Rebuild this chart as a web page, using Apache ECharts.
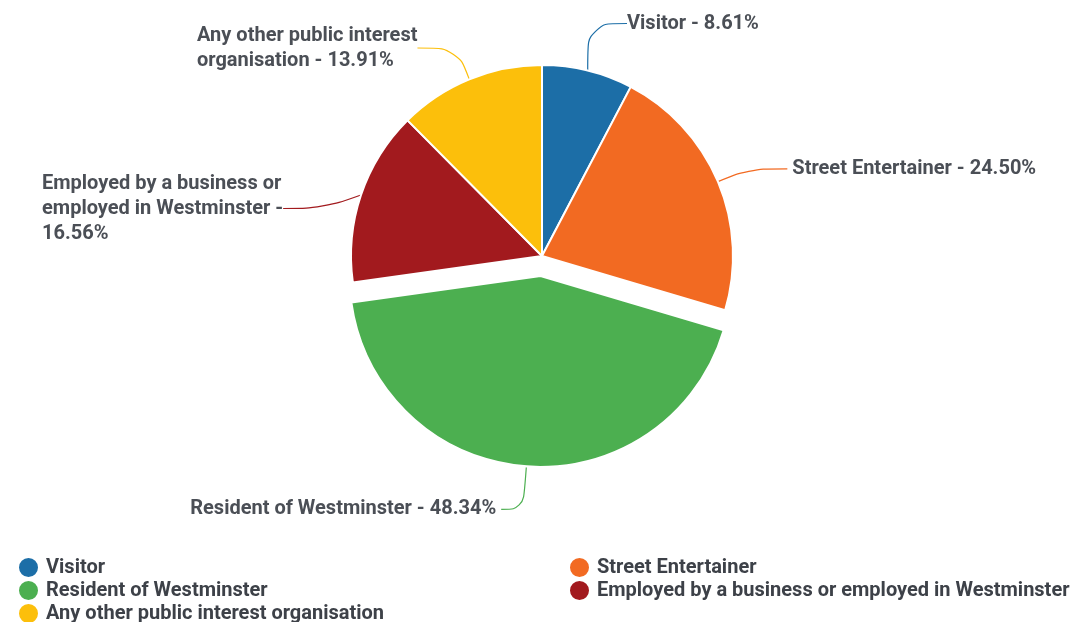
<!DOCTYPE html>
<html>
<head>
<meta charset="utf-8">
<script src="https://cdn.jsdelivr.net/npm/echarts@6/dist/echarts.min.js"></script>
<style>html,body{margin:0;padding:0;background:#fff}#c{width:1078px;height:622px}</style>
</head>
<body>
<div id="c"></div>
<script>
const categories = ['Visitor', 'Street Entertainer', 'Resident of Westminster', 'Employed by a business or employed in Westminster', 'Any other public interest organisation'];
const values = [8.61, 24.50, 48.34, 16.56, 13.91];
const labelTexts = ['Visitor', 'Street Entertainer', 'Resident of Westminster', 'Employed by a business or\nemployed in Westminster -\n', 'Any other public interest\norganisation'];
const colors = ['#1c6ea7', '#f26a22', '#4caf50', '#a21a1e', '#fcbf0b'];

const chart = echarts.init(document.getElementById('c'));
const labelPos = [
  [627, 11], null, null, [42, 171], [197, 23]
];
const txt = '#4b4f56';
const legendCommon = {
  orient: 'vertical', icon: 'circle', itemWidth: 21, itemHeight: 21, itemGap: 0, height: 80, padding: 0,
  textStyle: { fontFamily: 'Roboto', fontSize: 20, fontWeight: 'bold', color: '#3d4148', lineHeight: 21, padding: [0,0,0,2] },
  selectedMode: false
};
chart.setOption({
  animation: false,
  color: colors,
  legend: [
    Object.assign({ left: 17, top: 556, data: [categories[0], categories[2], categories[4]] }, legendCommon),
    Object.assign({ left: 568, top: 556, data: [categories[1], categories[3]] }, legendCommon)
  ],
  series: [{
    type: 'pie',
    center: [542, 256],
    radius: 191,
    startAngle: 90,
    clockwise: true,
    selectedMode: 'single',
    selectedOffset: 20,
    itemStyle: { borderColor: '#fff', borderWidth: 2 },
    label: {
      show: true,
      fontFamily: 'Roboto', fontSize: 20, fontWeight: 'bold', color: txt, lineHeight: 25,
      formatter: p => {
        const t = labelTexts[p.dataIndex];
        const v = values[p.dataIndex].toFixed(2) + '%';
        return t.endsWith('\n') ? t + v : t + ' - ' + v;
      }
    },
    labelLine: { show: true, smooth: 0.4, length: 22, length2: 40, lineStyle: { width: 1.2 } },
    labelLayout: p => {
      const pos = labelPos[p.dataIndex];
      return pos ? { x: pos[0], y: pos[1], align: 'left', verticalAlign: 'top' } : {};
    },
    data: categories.map((n, i) => {
      const d = { name: n, value: values[i] };
      if (i === 2) { d.selected = true; d.labelLine = { length: 43, length2: 22 }; }
      if (i === 1) { d.labelLine = { length: 33, length2: 39 }; }
      return d;
    })
  }]
});
</script>
</body>
</html>
